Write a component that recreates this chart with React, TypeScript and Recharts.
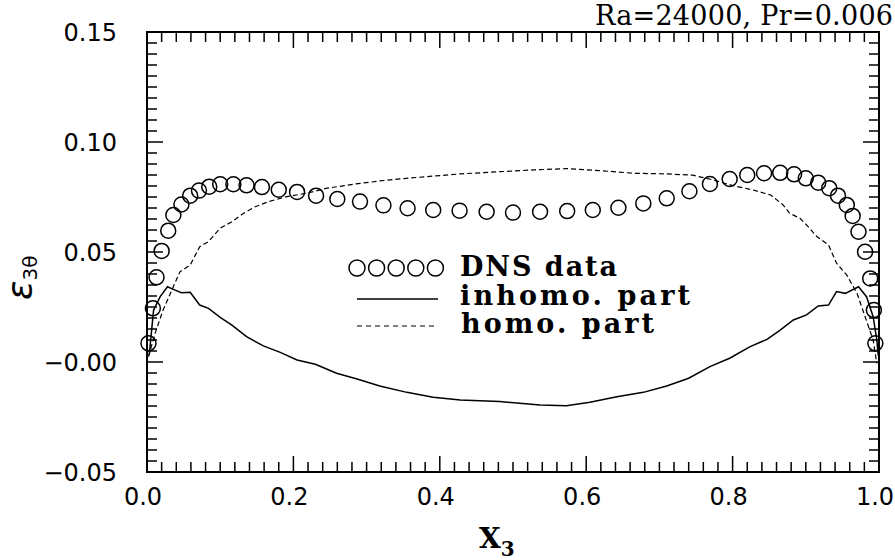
import { ComposedChart, Legend, Line, ReferenceArea, Scatter, XAxis, YAxis } from "recharts";

// DNS profile (circles)
const DNS_X = [
  0.002, 0.008, 0.013, 0.02, 0.029, 0.036, 0.047, 0.059, 0.071, 0.085, 0.1,
  0.118, 0.136, 0.157, 0.18, 0.205, 0.231, 0.26, 0.291, 0.323, 0.356, 0.391,
  0.427, 0.464, 0.5, 0.537, 0.574, 0.609, 0.644, 0.678, 0.71, 0.741, 0.769,
  0.796, 0.82, 0.843, 0.865, 0.884, 0.9, 0.917, 0.932, 0.944, 0.956, 0.964,
  0.972, 0.981, 0.988, 0.993, 0.995,
];
const DNS_Y = [
  0.0085, 0.0244, 0.0385, 0.0505, 0.0597, 0.0668, 0.0716, 0.0756, 0.0779,
  0.0797, 0.0808, 0.0808, 0.0803, 0.0795, 0.0783, 0.0773, 0.0756, 0.0741,
  0.0729, 0.0712, 0.0699, 0.0691, 0.0688, 0.0683, 0.0679, 0.0683, 0.0686,
  0.0691, 0.0701, 0.0721, 0.0744, 0.0776, 0.0809, 0.0832, 0.085, 0.0858,
  0.086, 0.0853, 0.0835, 0.0815, 0.079, 0.0756, 0.0714, 0.0664, 0.0592,
  0.0501, 0.038, 0.0236, 0.0085,
];

// model: inhomogeneous part (solid)
const INHOMO_X = [
  0.003, 0.009, 0.018, 0.028, 0.036, 0.047, 0.059, 0.072, 0.084, 0.1, 0.116,
  0.136, 0.159, 0.182, 0.205, 0.23, 0.259, 0.287, 0.318, 0.355, 0.391, 0.428,
  0.482, 0.537, 0.573, 0.605, 0.642, 0.678, 0.71, 0.74, 0.769, 0.796, 0.824,
  0.847, 0.865, 0.883, 0.901, 0.917, 0.931, 0.942, 0.954, 0.972, 0.983,
  0.992, 0.997, 0.999,
];
const INHOMO_Y = [
  0.0032, 0.0236, 0.0297, 0.0342, 0.033, 0.0315, 0.0317, 0.0259, 0.0244,
  0.0203, 0.0168, 0.0115, 0.0073, 0.0044, 0.0009, -0.001, -0.0051, -0.0077,
  -0.0109, -0.0138, -0.016, -0.0173, -0.018, -0.0195, -0.0199, -0.0183,
  -0.0158, -0.0138, -0.0109, -0.0074, -0.0021, 0.0017, 0.007, 0.0103, 0.0145,
  0.0191, 0.0214, 0.0255, 0.0259, 0.032, 0.0312, 0.0342, 0.0297, 0.0206,
  0.01, 0.003,
];

// model: homogeneous part (dashed)
const HOMO_X = [
  0.002, 0.011, 0.022, 0.034, 0.045, 0.059, 0.072, 0.084, 0.1, 0.116, 0.132,
  0.148, 0.166, 0.191, 0.218, 0.246, 0.282, 0.318, 0.355, 0.391, 0.428, 0.482,
  0.528, 0.573, 0.619, 0.664, 0.71, 0.746, 0.774, 0.801, 0.828, 0.852, 0.869,
  0.878, 0.892, 0.901, 0.915, 0.931, 0.942, 0.956, 0.97, 0.981, 0.992, 0.997,
];
const HOMO_Y = [
  0.0024, 0.013, 0.0236, 0.0327, 0.041, 0.0441, 0.0524, 0.0547, 0.0608,
  0.0638, 0.0676, 0.0706, 0.0729, 0.0752, 0.0767, 0.079, 0.0808, 0.0823,
  0.0835, 0.0845, 0.0855, 0.0865, 0.0873, 0.0879, 0.087, 0.0858, 0.0855,
  0.0849, 0.0827, 0.0801, 0.0782, 0.0759, 0.0714, 0.0676, 0.0653, 0.0623,
  0.057, 0.0532, 0.0449, 0.0395, 0.0312, 0.0206, 0.01, -0.0006,
];

const X_MAJOR = [0, 0.2, 0.4, 0.6, 0.8, 1.0];
const X_LABELS = ["0.0", "0.2", "0.4", "0.6", "0.8", "1.0"];
const Y_MAJOR = [-0.05, 0, 0.05, 0.1, 0.15];
const Y_LABELS = ["\u22120.05", "\u22120.00", "0.05", "0.10", "0.15"];
const X_MINOR_STEP = 0.02;
const Y_MINOR_STEP = 0.005;

const TITLE = "Ra=24000,  Pr=0.006";
const SERIES_NAMES = ["DNS data", "inhomo. part", "homo. part"];

const toRows = (xs: number[], ys: number[]) => xs.map((x, i) => ({ x, y: ys[i] }));
const dnsRows = toRows(DNS_X, DNS_Y);
const inhomoRows = toRows(INHOMO_X, INHOMO_Y);
const homoRows = toRows(HOMO_X, HOMO_Y);

const xTicks = Array.from({ length: 51 }, (_, i) => Number((i * X_MINOR_STEP).toFixed(2)));
const yTicks = Array.from({ length: 41 }, (_, i) =>
  Number((Y_MAJOR[0] + i * Y_MINOR_STEP).toFixed(3)),
);

const W = 895;
const H = 560;
const MARGIN = { top: 32, right: 16, bottom: 0, left: 0 };
const Y_AXIS_W = 147;
const X_AXIS_H = 88;
const PLOT_W = W - MARGIN.left - MARGIN.right - Y_AXIS_W;
const PLOT_H = H - MARGIN.top - MARGIN.bottom - X_AXIS_H;

const SANS = "DejaVu Sans";
const SERIF = "DejaVu Serif";

const majorIndex = (v: number, majors: number[]) =>
  majors.findIndex((m) => Math.abs(m - v) < 1e-6);

// inward ticks; each bottom/left tick also draws its twin on the top/right side
function FrameTick({ x, y, payload, side }: any) {
  const bottom = side === "bottom";
  const idx = majorIndex(payload.value, bottom ? X_MAJOR : Y_MAJOR);
  const len = idx >= 0 ? 16 : 10;
  const tick = { stroke: "#000", strokeWidth: 1.5 };
  if (bottom) {
    const top = y - PLOT_H;
    return (
      <g>
        <line x1={x} y1={y} x2={x} y2={y - len} {...tick} />
        <line x1={x} y1={top} x2={x} y2={top + len} {...tick} />
        {idx >= 0 && (
          <text x={x - 4} y={y + 33} textAnchor="middle" fontFamily={SANS} fontSize={24} fill="#000">
            {X_LABELS[idx]}
          </text>
        )}
      </g>
    );
  }
  const right = x + PLOT_W;
  return (
    <g>
      <line x1={x} y1={y} x2={x + len} y2={y} {...tick} />
      <line x1={right} y1={y} x2={right - len} y2={y} {...tick} />
      {idx >= 0 && (
        <text x={x - 30} y={y} dy="0.36em" textAnchor="end" fontFamily={SANS} fontSize={24} fill="#000">
          {Y_LABELS[idx]}
        </text>
      )}
    </g>
  );
}

function Ring(p: any) {
  return <circle cx={p.cx} cy={p.cy} r={7.5} fill="none" stroke="#000" strokeWidth={1.5} />;
}

// x-axis title plus the run parameters above the top-right corner
function XTitle({ viewBox }: any) {
  const x0 = viewBox.x + viewBox.width / 2 - 34;
  return (
    <g>
      <text x={x0} y={viewBox.y + 76} fontFamily={SERIF} fontWeight="bold" fontSize={28} fill="#000">
        X
        <tspan fontSize={20} dy={8}>
          3
        </tspan>
      </text>
      <text
        x={viewBox.x + viewBox.width + 14}
        y={viewBox.y - PLOT_H - 7}
        textAnchor="end"
        fontFamily={SERIF}
        fontSize={27}
        textLength={298}
        lengthAdjust="spacing"
        fill="#000"
      >
        {TITLE}
      </text>
    </g>
  );
}

function YTitle({ viewBox }: any) {
  const bx = viewBox.x + viewBox.width - 115;
  const by = viewBox.y + viewBox.height / 2 + 48;
  return (
    <text transform={`translate(${bx},${by}) rotate(-90)`} fontFamily={SANS} fill="#000">
      <tspan fontSize={36} fontStyle="italic">
        ε
      </tspan>
      <tspan fontSize={20} dy={5}>
        3θ
      </tspan>
    </text>
  );
}

function LegendBox() {
  const textProps = { fontFamily: SERIF, fontWeight: "bold", fontSize: 27, fill: "#000", lengthAdjust: "spacing" };
  return (
    <svg width={370} height={95} style={{ display: "block", overflow: "visible" }}>
      {[0, 1, 2, 3, 4].map((i) => (
        <circle key={i} cx={17 + i * 19.6} cy={18} r={8} fill="none" stroke="#000" strokeWidth={1.5} />
      ))}
      <line x1={17} x2={98} y1={49} y2={49} stroke="#000" strokeWidth={1.5} />
      <line x1={17} x2={98} y1={76} y2={76} stroke="#000" strokeWidth={1.2} strokeDasharray="5 4" />
      <text x={120} y={26} textLength={157} {...(textProps as any)}>
        {SERIES_NAMES[0]}
      </text>
      <text x={120} y={55} textLength={230} {...(textProps as any)}>
        {SERIES_NAMES[1]}
      </text>
      <text x={121} y={83} textLength={193} {...(textProps as any)}>
        {SERIES_NAMES[2]}
      </text>
    </svg>
  );
}

export default function App() {
  return (
    <div style={{ position: "absolute", left: 0, top: 0, width: W, height: H, background: "#fff" }}>
      <ComposedChart width={W} height={H} margin={MARGIN}>
        <XAxis
          type="number"
          dataKey="x"
          domain={[0, 1]}
          ticks={xTicks}
          interval={0}
          height={X_AXIS_H}
          tickSize={0}
          tickMargin={0}
          tickLine={false}
          axisLine={false}
          tick={(p: any) => <FrameTick {...p} side="bottom" />}
          label={{ content: XTitle }}
        />
        <YAxis
          type="number"
          dataKey="y"
          domain={[-0.05, 0.15]}
          ticks={yTicks}
          interval={0}
          width={Y_AXIS_W}
          tickSize={0}
          tickMargin={0}
          tickLine={false}
          axisLine={false}
          tick={(p: any) => <FrameTick {...p} side="left" />}
          label={{ content: YTitle }}
        />
        {/* plot frame */}
        <ReferenceArea
          x1={0}
          x2={1}
          y1={-0.05}
          y2={0.15}
          fill="none"
          fillOpacity={0}
          stroke="#000"
          strokeWidth={2}
          ifOverflow="visible"
        />
        <Legend
          content={LegendBox}
          layout="vertical"
          verticalAlign="middle"
          align="center"
          wrapperStyle={{ left: 340, top: 250, width: 370, height: 95 }}
        />
        <Line
          data={homoRows}
          dataKey="y"
          name={SERIES_NAMES[2]}
          type="linear"
          stroke="#000"
          strokeWidth={1.2}
          strokeDasharray="5 3"
          dot={false}
          isAnimationActive={false}
        />
        <Line
          data={inhomoRows}
          dataKey="y"
          name={SERIES_NAMES[1]}
          type="linear"
          stroke="#000"
          strokeWidth={1.5}
          dot={false}
          isAnimationActive={false}
        />
        <Scatter data={dnsRows} name={SERIES_NAMES[0]} shape={Ring} isAnimationActive={false} />
      </ComposedChart>
    </div>
  );
}
